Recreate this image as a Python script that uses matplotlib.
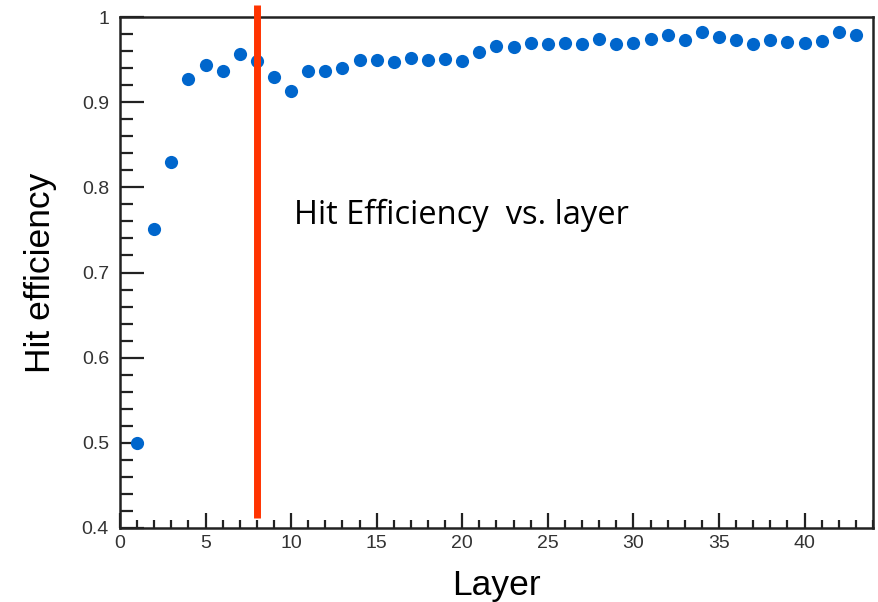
import matplotlib.pyplot as plt
from matplotlib.ticker import MultipleLocator

layers = list(range(1, 44))
efficiency = [0.500, 0.751, 0.830, 0.927, 0.944, 0.937, 0.957, 0.948, 0.930, 0.913,
              0.937, 0.937, 0.940, 0.950, 0.950, 0.947, 0.952, 0.950, 0.951, 0.948,
              0.959, 0.966, 0.965, 0.970, 0.968, 0.969, 0.968, 0.974, 0.968, 0.969,
              0.974, 0.979, 0.973, 0.982, 0.976, 0.973, 0.968, 0.973, 0.971, 0.969,
              0.972, 0.982, 0.979]
cut_layer = 8

plt.rcParams['font.family'] = ['Liberation Sans', 'DejaVu Sans']

fig = plt.figure(figsize=(8.79, 6.02), dpi=100)
ax = fig.add_axes([120 / 879, 1 - 528 / 602, 753 / 879, 511 / 602])

ax.plot(layers, efficiency, 'o', color='#0066cc', markersize=9.5, markeredgewidth=0)

# red marker line sticks out above the frame
ax.plot([cut_layer, cut_layer], [0.412, 1.014], color='#ff3300', linewidth=5,
        solid_capstyle='butt', clip_on=False, zorder=5)

ax.text(10.15, 0.757, 'Hit Efficiency  vs. layer', fontsize=23.5, family='Open Sans',
        va='baseline', ha='left')

ax.set_xlim(0, 44)
ax.set_ylim(0.4, 1.0)
ax.xaxis.set_major_locator(MultipleLocator(5))
ax.xaxis.set_minor_locator(MultipleLocator(1))
ax.yaxis.set_major_locator(MultipleLocator(0.1))
ax.yaxis.set_minor_locator(MultipleLocator(0.02))
ax.set_xticks(range(0, 41, 5))
ax.set_xticklabels([str(v) for v in range(0, 41, 5)])
ax.set_yticks([0.4, 0.5, 0.6, 0.7, 0.8, 0.9, 1.0])
ax.set_yticklabels(['0.4', '0.5', '0.6', '0.7', '0.8', '0.9', '1'])

ax.tick_params(which='both', direction='in', width=1.6, labelsize=14, color='#222222',
               labelcolor='#333333')
ax.tick_params(axis='x', which='major', length=11, pad=5)
ax.tick_params(axis='x', which='minor', length=6)
ax.tick_params(axis='y', which='major', length=17, pad=8)
ax.tick_params(axis='y', which='minor', length=9)
for s in ax.spines.values():
    s.set_linewidth(1.8)
    s.set_color('#222222')

ax.set_xlabel('Layer', fontsize=25.5, labelpad=12)
ax.set_ylabel('Hit efficiency', fontsize=25.5, labelpad=18)

fig.savefig('out.png', dpi=100)
